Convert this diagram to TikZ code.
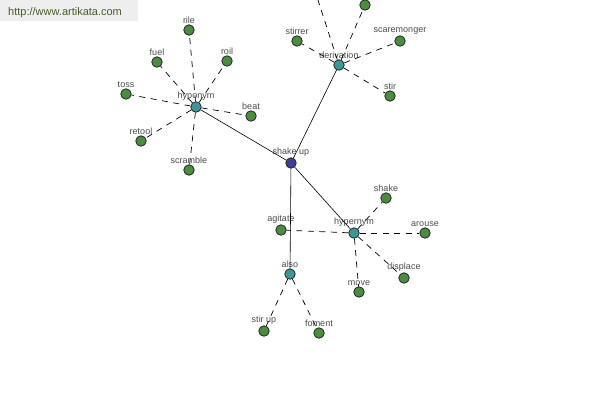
\documentclass[tikz,border=0pt]{standalone}
\usepackage{fontspec}
\setmainfont{Liberation Sans}
\definecolor{tealn}{RGB}{64,150,150}
\definecolor{greenn}{RGB}{76,140,62}
\definecolor{bluen}{RGB}{62,62,150}
\definecolor{outl}{RGB}{30,40,40}
\definecolor{labc}{RGB}{75,75,75}
\definecolor{bannerbg}{RGB}{238,238,238}
\definecolor{bannertx}{RGB}{72,92,40}
\tikzset{
  dot/.style={circle,draw=outl,line width=0.8pt,minimum size=10.5pt,inner sep=0pt},
  hub/.style={dot,fill=tealn},
  leaf/.style={dot,fill=greenn},
  root/.style={dot,fill=bluen},
  lab/.style={label={[label distance=0pt,inner sep=1pt,text=labc,font=\fontsize{9}{10}\selectfont]above:#1}},
  solidedge/.style={draw=black,line width=0.6pt},
  dashedge/.style={draw=black,line width=0.7pt,dash pattern=on 6pt off 5.5pt},
}
\begin{document}
\begin{tikzpicture}[x=1pt,y=-1pt]
\useasboundingbox (0,0) rectangle (600,400);
\clip (0,0) rectangle (600,400);
\fill[bannerbg] (0,0) rectangle (138,21);
\node[anchor=base west,inner sep=0pt,text=bannertx,font=\fontsize{11}{13}\selectfont] (banner) at (8,15) {http://www.artikata.com};

\node[root,lab={shake up}] (shakeup) at (291,163) {};
\node[hub,lab={hyponym}] (hyponym) at (196,107) {};
\node[hub,lab={derivation}] (derivation) at (339,65) {};
\node[hub,lab={hypernym}] (hypernym) at (354,233) {};
\node[hub,lab={also}] (also) at (290,274) {};

\node[leaf,lab={rile}] (rile) at (189,30) {};
\node[leaf,lab={fuel}] (fuel) at (157,62) {};
\node[leaf,lab={roil}] (roil) at (227,61) {};
\node[leaf,lab={toss}] (toss) at (126,94) {};
\node[leaf,lab={beat}] (beat) at (251,116) {};
\node[leaf,lab={retool}] (retool) at (141,141) {};
\node[leaf,lab={scramble}] (scramble) at (189,170) {};

\node[leaf,lab={stirrer}] (stirrer) at (297,41) {};
\node[leaf,lab={scaremonger}] (scaremonger) at (400,41) {};
\node[leaf,lab={stir}] (stir) at (390,96) {};
\node[leaf] (topa) at (365,5) {};
\node[leaf] (topb) at (316,-6) {};

\node[leaf,lab={shake}] (shake) at (386,198) {};
\node[leaf,lab={arouse}] (arouse) at (425,233) {};
\node[leaf,lab={displace}] (displace) at (404,278) {};
\node[leaf,lab={move}] (move) at (359,292) {};
\node[leaf,lab={agitate}] (agitate) at (281,230) {};

\node[leaf,lab={stir up}] (stirup) at (264,331) {};
\node[leaf,lab={foment}] (foment) at (319,333) {};

\draw[solidedge] (shakeup) -- (hyponym);
\draw[solidedge] (shakeup) -- (derivation);
\draw[solidedge] (shakeup) -- (hypernym);
\draw[solidedge] (shakeup) -- (also);

\foreach \t in {rile,fuel,roil,toss,beat,retool,scramble}
  \draw[dashedge] (hyponym) -- (\t);
\foreach \t in {stirrer,scaremonger,stir,topa,topb}
  \draw[dashedge] (derivation) -- (\t);
\foreach \t in {shake,arouse,displace,move,agitate}
  \draw[dashedge] (hypernym) -- (\t);
\foreach \t in {stirup,foment}
  \draw[dashedge] (also) -- (\t);
\end{tikzpicture}
\end{document}
